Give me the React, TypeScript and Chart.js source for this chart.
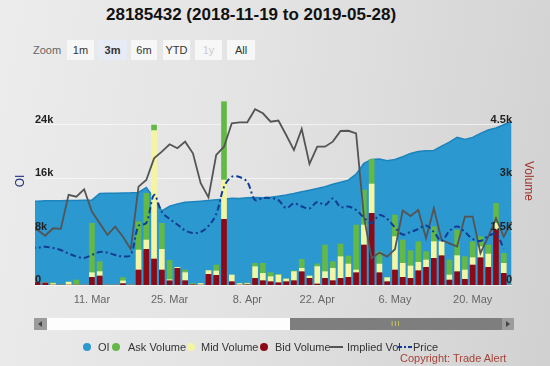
import React, { useEffect, useRef } from 'react';
import { Chart, registerables } from 'chart.js';
Chart.register(...registerables);

const dates = [
  '2019-02-27', '2019-02-28', '2019-03-01', '2019-03-04', '2019-03-05', '2019-03-06', '2019-03-07', '2019-03-08',
  '2019-03-11', '2019-03-12', '2019-03-13', '2019-03-14', '2019-03-15', '2019-03-18', '2019-03-19', '2019-03-20',
  '2019-03-21', '2019-03-22', '2019-03-25', '2019-03-26', '2019-03-27', '2019-03-28', '2019-03-29', '2019-04-01',
  '2019-04-02', '2019-04-03', '2019-04-04', '2019-04-05', '2019-04-08', '2019-04-09', '2019-04-10', '2019-04-11',
  '2019-04-12', '2019-04-15', '2019-04-16', '2019-04-17', '2019-04-18', '2019-04-22', '2019-04-23', '2019-04-24',
  '2019-04-25', '2019-04-26', '2019-04-29', '2019-04-30', '2019-05-01', '2019-05-02', '2019-05-03', '2019-05-06',
  '2019-05-07', '2019-05-08', '2019-05-09', '2019-05-10', '2019-05-13', '2019-05-14', '2019-05-15', '2019-05-16',
  '2019-05-17', '2019-05-20', '2019-05-21', '2019-05-22', '2019-05-23', '2019-05-24', '2019-05-28',
];

const xTickDates = ['2019-03-11', '2019-03-25', '2019-04-08', '2019-04-22', '2019-05-06', '2019-05-20'];
const viewStart = '2019-02-28';

const openInterest = [
  12500, 12550, 12600, 12600, 12620, 12650, 12650, 12680, 12700, 13700, 13750, 13750, 13780, 13800, 13850, 14600,
  13000, 11100, 11800, 12150, 12400, 12470, 12550, 12650, 12750, 12850, 12980, 12950, 13050, 13100, 13050, 13130,
  13300, 13470, 13700, 13970, 14200, 14450, 14700, 15100, 15400, 15700, 16600, 18200, 18800, 18850, 18600, 18800,
  19200, 19700, 20000, 20100, 20150, 20800, 21400, 22100, 21800, 22100, 22700, 23200, 23500, 24000, 24500,
];

const askVolume = [
  0, 0, 0, 25, 0, 0, 140, 0, 1385, 281, 0, 0, 95, 0, 795, 1310,
  159, 730, 540, 0, 75, 30, 0, 0, 168, 2199, 0, 0, 20, 94, 281, 112,
  20, 0, 20, 253, 0, 75, 749, 187, 356, 225, 1263, 983, 692, 346, 0, 608,
  655, 430, 580, 234, 421, 0, 421, 720, 374, 449, 281, 253, 561, 281, 0,
];
const midVolume = [
  0, 0, 0, 40, 0, 80, 0, 0, 131, 122, 0, 0, 75, 0, 561, 262,
  3602, 580, 30, 28, 225, 0, 40, 103, 122, 1104, 187, 40, 30, 327, 206, 140,
  215, 75, 253, 94, 65, 487, 187, 346, 608, 374, 75, 561, 823, 243, 112, 936,
  393, 346, 234, 206, 468, 393, 140, 449, 262, 206, 309, 374, 187, 281, 0,
];
const bidVolume = [
  0, 70, 60, 0, 0, 0, 0, 0, 215, 253, 0, 0, 40, 0, 421, 1001,
  730, 421, 120, 468, 122, 10, 0, 300, 271, 1843, 94, 0, 10, 187, 122, 94,
  65, 94, 122, 374, 187, 30, 187, 122, 187, 215, 346, 1123, 2012, 346, 94, 421,
  215, 187, 402, 496, 749, 823, 140, 374, 159, 561, 767, 496, 1544, 327, 0,
];

const impliedVol = [
  36.0, 35.4, 32.5, 36.2, 35.9, 52.8, 51.9, 55.6, 44.5, 38.7, 32.9, 37.0, 32.0, 25.8, 56.9, 60.2,
  71.0, 74.3, 78.0, 76.0, 79.3, 73.5, 58.6, 51.6, 72.7, 76.8, 88.4, 88.9, 88.9, 95.4, 93.4, 89.2,
  89.8, 82.6, 75.1, 85.6, 68.2, 76.8, 76.8, 79.3, 84.6, 84.7, 83.4, 42.0, 21.3, 24.1, 22.1, 25.8,
  45.0, 42.3, 45.3, 31.2, 46.2, 30.4, 28.7, 27.1, 42.0, 42.0, 23.8, 32.0, 41.2, 32.0, 39.5,
];

const price = [
  43.3, 43.31, 43.41, 43.28, 43.08, 42.73, 42.44, 42.29, 42.59, 42.88, 42.83, 42.59, 42.44, 42.59, 45.47, 45.77,
  48.55, 46.86, 46.17, 45.62, 45.02, 44.77, 44.87, 45.47, 46.66, 49.35, 50.37, 50.34, 49.84, 48.05, 48.25, 48.25,
  48.05, 47.26, 47.71, 47.41, 47.21, 47.86, 47.56, 48.2, 47.36, 47.41, 47.06, 46.31, 45.77, 46.56, 46.17, 45.32,
  44.62, 44.87, 45.17, 45.52, 44.87, 43.98, 44.97, 45.42, 44.87, 44.18, 43.98, 44.47, 44.67, 43.23, null,
];

const leftTicks = [0, 8000, 16000, 24000];
const rightTicks = [0, 1500, 3000, 4500];
const monthNames = ['Jan', 'Feb', 'Mar', 'Apr', 'May', 'Jun', 'Jul', 'Aug', 'Sep', 'Oct', 'Nov', 'Dec'];

const COLORS = {
  oiFill: '#2b98d0',
  oiLine: '#1c83bd',
  ask: '#63b846',
  mid: '#f3f5a3',
  bid: '#8c0a16',
  iv: '#545454',
  price: '#123c92',
};

const kFmt = (v: number) => (v === 0 ? '0' : `${v / 1000}k`);

function fmtDate(d: string) {
  const [, m, day] = d.split('-');
  return `${parseInt(day, 10)}. ${monthNames[parseInt(m, 10) - 1]}`;
}

const pts = (arr: (number | null)[]) => arr.map((y, i) => ({ x: i, y }));

function ChartCanvas() {
  const ref = useRef<HTMLCanvasElement | null>(null);
  useEffect(() => {
    if (!ref.current) return;
    const startIdx = dates.indexOf(viewStart);
    const tickIdx = xTickDates.map((d) => dates.indexOf(d));
    const chart = new Chart(ref.current, {
      data: {
        datasets: [
          {
            type: 'line',
            label: 'Price',
            data: pts(price),
            yAxisID: 'yp',
            borderColor: COLORS.price,
            borderWidth: 2,
            borderDash: [6, 3, 2, 3],
            pointRadius: 0,
            tension: 0.35,
            fill: false,
            order: 0,
          },
          {
            type: 'line',
            label: 'Implied Vol',
            data: pts(impliedVol),
            yAxisID: 'yiv',
            borderColor: COLORS.iv,
            borderWidth: 1.8,
            pointRadius: 0,
            tension: 0,
            fill: false,
            order: 1,
          },
          {
            type: 'bar',
            label: 'Bid Volume',
            data: pts(bidVolume),
            yAxisID: 'yv',
            backgroundColor: COLORS.bid,
            barThickness: 5,
            stack: 'vol',
            order: 2,
          },
          {
            type: 'bar',
            label: 'Mid Volume',
            data: pts(midVolume),
            yAxisID: 'yv',
            backgroundColor: COLORS.mid,
            barThickness: 5,
            stack: 'vol',
            order: 2,
          },
          {
            type: 'bar',
            label: 'Ask Volume',
            data: pts(askVolume),
            yAxisID: 'yv',
            backgroundColor: COLORS.ask,
            barThickness: 5,
            stack: 'vol',
            order: 2,
          },
          {
            type: 'line',
            label: 'OI',
            data: pts(openInterest),
            yAxisID: 'y',
            borderColor: COLORS.oiLine,
            borderWidth: 1.5,
            backgroundColor: COLORS.oiFill,
            pointRadius: 0,
            tension: 0,
            fill: 'origin',
            order: 3,
          },
        ],
      },
      options: {
        responsive: false,
        animation: false,
        devicePixelRatio: 1,
        layout: { padding: { left: 35, right: 38, top: 98, bottom: 51 } },
        plugins: { legend: { display: false }, tooltip: { enabled: false }, title: { display: false } },
        scales: {
          x: {
            type: 'linear',
            stacked: true,
            offset: false,
            min: startIdx - 0.322,
            max: dates.length - 1 + 0.06,
            grid: { display: false, drawTicks: false },
            border: { display: false },
            ticks: {
              autoSkip: false,
              maxRotation: 0,
              padding: 8,
              color: '#666',
              font: { family: 'Liberation Sans, Arial, sans-serif', size: 11 },
              callback: (v: any) => fmtDate(dates[Math.round(Number(v))] || ''),
            },
            afterBuildTicks: (s: any) => {
              s.ticks = tickIdx.map((v) => ({ value: v }));
            },
            afterFit: (s: any) => {
              s.height = 30;
            },
          },
          y: {
            type: 'linear',
            position: 'left',
            min: 0,
            max: 28000,
            grid: { color: 'rgba(255,255,255,0.6)', drawTicks: false },
            border: { display: false },
            ticks: {
              mirror: true,
              padding: 0,
              labelOffset: -5,
              z: 1,
              color: '#222',
              font: { family: 'Liberation Sans, Arial, sans-serif', size: 11, weight: 'bold' },
              callback: (v: any) => kFmt(Number(v)),
            },
            afterBuildTicks: (s: any) => {
              s.ticks = leftTicks.map((v) => ({ value: v }));
            },
            afterFit: (s: any) => {
              s.width = 0;
            },
          },
          yv: {
            type: 'linear',
            position: 'right',
            stacked: true,
            min: 0,
            max: 5250,
            grid: { display: false, drawTicks: false },
            border: { display: false },
            ticks: {
              mirror: true,
              padding: 0,
              labelOffset: -5,
              z: 1,
              color: '#222',
              font: { family: 'Liberation Sans, Arial, sans-serif', size: 11, weight: 'bold' },
              callback: (v: any) => kFmt(Number(v)),
            },
            afterBuildTicks: (s: any) => {
              s.ticks = rightTicks.map((v) => ({ value: v }));
            },
            afterFit: (s: any) => {
              s.width = 0;
            },
          },
          yiv: { type: 'linear', display: false, min: 8, max: 101 },
          yp: { type: 'linear', display: false, min: 39.6, max: 58.2 },
        },
      },
    } as any);
    return () => chart.destroy();
  }, []);
  return <canvas ref={ref} width={550} height={366} style={{ position: 'absolute', left: 0, top: 0, width: 550, height: 366 }} />;
}

const font = 'Liberation Sans, Arial, sans-serif';

const zoomButtons = [
  { label: '1m', left: 67, width: 27 },
  { label: '3m', left: 98, width: 29, selected: true },
  { label: '6m', left: 131, width: 26 },
  { label: 'YTD', left: 163, width: 27 },
  { label: '1y', left: 195, width: 27, disabled: true },
  { label: 'All', left: 227, width: 28 },
];

const legendItems = [
  { label: 'OI', color: COLORS.oiFill, dot: 87, text: 98 },
  { label: 'Ask Volume', color: COLORS.ask, dot: 116, text: 128 },
  { label: 'Mid Volume', color: COLORS.mid, dot: 191, text: 201 },
  { label: 'Bid Volume', color: COLORS.bid, dot: 264, text: 275 },
];

export default function App() {
  const abs = (s: React.CSSProperties): React.CSSProperties => ({ position: 'absolute', ...s });
  return (
    <div
      style={{
        position: 'absolute',
        left: 0,
        top: 0,
        width: 550,
        height: 366,
        overflow: 'hidden',
        background: 'linear-gradient(100deg, #ececec 0%, #e3e3e3 45%, #d1d1d1 100%)',
        fontFamily: font,
      }}
    >
      <div style={abs({ left: 106, top: 4, fontSize: 17, fontWeight: 'bold', color: '#111', whiteSpace: 'nowrap', lineHeight: '22px' })}>
        28185432 (2018-11-19 to 2019-05-28)
      </div>
      <div style={abs({ left: 33, top: 42, fontSize: 11, color: '#666', lineHeight: '16px' })}>Zoom</div>
      {zoomButtons.map((b) => (
        <div
          key={b.label}
          style={abs({
            left: b.left,
            top: 40,
            width: b.width,
            height: 20,
            lineHeight: '20px',
            textAlign: 'center',
            fontSize: 11,
            background: b.selected ? '#e6ebf5' : '#f7f7f7',
            color: b.disabled ? '#ccc' : '#333',
            fontWeight: b.selected ? 'bold' : 'normal',
          })}
        >
          {b.label}
        </div>
      ))}
      <ChartCanvas />
      <div style={abs({ left: 20, top: 181, transform: 'translate(-50%,-50%) rotate(-90deg)', fontSize: 12, color: '#22307f', whiteSpace: 'nowrap' })}>OI</div>
      <div style={abs({ left: 529, top: 181, transform: 'translate(-50%,-50%) rotate(90deg)', fontSize: 12, color: '#a3322b', whiteSpace: 'nowrap' })}>Volume</div>
      {/* scrollbar */}
      <div style={abs({ left: 34, top: 318, width: 13, height: 12, background: '#9c9c9c' })}>
        <div style={abs({ left: 4, top: 3, width: 0, height: 0, borderTop: '3px solid transparent', borderBottom: '3px solid transparent', borderRight: '4px solid #444' })} />
      </div>
      <div style={abs({ left: 47, top: 318, width: 243, height: 12, background: '#fdfdfd' })} />
      <div style={abs({ left: 290, top: 318, width: 212, height: 12, background: '#7e7e7e' })}>
        <div style={abs({ left: 101, top: 0, fontSize: 8, lineHeight: '12px', color: '#d8d84a', letterSpacing: 1 })}>III</div>
      </div>
      <div style={abs({ left: 502, top: 318, width: 12, height: 12, background: '#9c9c9c' })}>
        <div style={abs({ left: 4, top: 3, width: 0, height: 0, borderTop: '3px solid transparent', borderBottom: '3px solid transparent', borderLeft: '4px solid #444' })} />
      </div>
      {/* legend */}
      {legendItems.map((it) => (
        <React.Fragment key={it.label}>
          <div style={abs({ left: it.dot - 4, top: 343, width: 8, height: 8, borderRadius: 4, background: it.color })} />
          <div style={abs({ left: it.text, top: 340, fontSize: 11, lineHeight: '14px', color: '#333', whiteSpace: 'nowrap' })}>{it.label}</div>
        </React.Fragment>
      ))}
      <div style={abs({ left: 329, top: 346, width: 14, height: 2, background: COLORS.iv })} />
      <div style={abs({ left: 347, top: 340, fontSize: 11, lineHeight: '14px', color: '#333', whiteSpace: 'nowrap' })}>Implied Vol</div>
      <div style={abs({ left: 398, top: 346, width: 4, height: 2, background: COLORS.price })} />
      <div style={abs({ left: 404, top: 346, width: 2, height: 2, background: COLORS.price })} />
      <div style={abs({ left: 408, top: 346, width: 4, height: 2, background: COLORS.price })} />
      <div style={abs({ left: 413, top: 340, fontSize: 11, lineHeight: '14px', color: '#333', whiteSpace: 'nowrap' })}>Price</div>
      <div style={abs({ left: 400, top: 351, fontSize: 11, lineHeight: '14px', color: '#a2443a', whiteSpace: 'nowrap' })}>Copyright: Trade Alert</div>
    </div>
  );
}
